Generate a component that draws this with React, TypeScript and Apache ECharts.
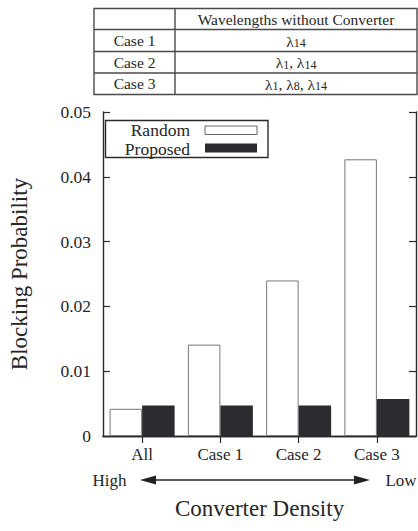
import React, { useEffect, useRef } from "react";
import * as echarts from "echarts";

// Blocking probability per converter placement case
const categories = ["All", "Case 1", "Case 2", "Case 3"];
const randomValues = [0.0042, 0.0141, 0.024, 0.0427];
const proposedValues = [0.0047, 0.0047, 0.0047, 0.0057];
const yMin = 0;
const yMax = 0.05;
const yInterval = 0.01;

// Summary table above the chart
const tableHeader = "Wavelengths without Converter";
const tableCases = ["Case 1", "Case 2", "Case 3"];
const tableWavelengths = [["14"], ["1", "14"], ["1", "8", "14"]];

const seriesNames = ["Random", "Proposed"];
const densityEnds = ["High", "Low"];

const FONT = "Liberation Serif";
const TEXT = "#262626";
const FRAME = "#2b2b2b";
const DARK = "#2b2c30";

export default function App() {
  const ref = useRef<HTMLDivElement>(null);

  useEffect(() => {
    if (!ref.current) return;
    const chart = echarts.init(ref.current, null, { renderer: "svg" });

    // table geometry
    const tX0 = 94, tX1 = 175, tX2 = 417;
    const tRows = [8.5, 29.5, 51.5, 73, 94.5];
    const tableLine = { stroke: "#4a4a4a", lineWidth: 1.4 };
    const tableGraphics: any[] = [
      {
        type: "rect",
        shape: { x: tX0, y: tRows[0], width: tX2 - tX0, height: tRows[4] - tRows[0] },
        style: { fill: "none", ...tableLine },
      },
      {
        type: "line",
        shape: { x1: tX1, y1: tRows[0], x2: tX1, y2: tRows[4] },
        style: tableLine,
      },
      ...[1, 2, 3].map((i) => ({
        type: "line",
        shape: { x1: tX0, y1: tRows[i], x2: tX2, y2: tRows[i] },
        style: tableLine,
      })),
      {
        type: "text",
        x: (tX1 + tX2) / 2,
        y: (tRows[0] + tRows[1]) / 2,
        style: {
          text: tableHeader,
          fontFamily: FONT,
          fontSize: 15.5,
          fill: TEXT,
          align: "center",
          verticalAlign: "middle",
        },
      },
      ...tableCases.map((c, i) => ({
        type: "text",
        x: (tX0 + tX1) / 2,
        y: (tRows[i + 1] + tRows[i + 2]) / 2,
        style: {
          text: c,
          fontFamily: FONT,
          fontSize: 15.5,
          fill: TEXT,
          align: "center",
          verticalAlign: "middle",
        },
      })),
      ...tableWavelengths.map((subs, i) => ({
        type: "text",
        x: (tX1 + tX2) / 2,
        y: (tRows[i + 1] + tRows[i + 2]) / 2,
        style: {
          text: subs.map((s) => `{l|λ}{s|${s}}`).join("{l|, }"),
          fontFamily: FONT,
          fill: TEXT,
          align: "center",
          verticalAlign: "middle",
          rich: {
            l: { fontFamily: FONT, fontSize: 15.5, fill: TEXT, lineHeight: 17, verticalAlign: "bottom" },
            s: { fontFamily: FONT, fontSize: 12, fill: TEXT, lineHeight: 17, verticalAlign: "bottom" },
          },
        },
      })),
    ];

    // legend drawn as a framed box
    const legendGraphics: any[] = [
      {
        type: "rect",
        shape: { x: 105.5, y: 120.5, width: 162.5, height: 37 },
        style: { fill: "#fff", stroke: FRAME, lineWidth: 1.4 },
        z: 10,
      },
      ...seriesNames.map((n, i) => ({
        type: "text",
        x: 190,
        y: 130 + i * 18.5,
        z: 11,
        style: {
          text: n,
          fontFamily: FONT,
          fontSize: 17.5,
          lineHeight: 17,
          fill: TEXT,
          align: "right",
          verticalAlign: "middle",
        },
      })),
      {
        type: "rect",
        z: 11,
        shape: { x: 205, y: 126, width: 52, height: 8.5 },
        style: { fill: "#fff", stroke: "#666", lineWidth: 1 },
      },
      {
        type: "rect",
        z: 11,
        shape: { x: 205, y: 143.5, width: 52, height: 9 },
        style: { fill: DARK },
      },
    ];

    // density arrow under the category labels
    const ay = 480;
    const arrowGraphics: any[] = [
      {
        type: "line",
        shape: { x1: 150, y1: ay, x2: 360, y2: ay },
        style: { stroke: "#222", lineWidth: 1.3 },
      },
      {
        type: "polygon",
        shape: { points: [[140, ay], [156, ay - 4.5], [156, ay + 4.5]] },
        style: { fill: "#222" },
      },
      {
        type: "polygon",
        shape: { points: [[370, ay], [354, ay - 4.5], [354, ay + 4.5]] },
        style: { fill: "#222" },
      },
      {
        type: "text",
        x: 109.5,
        y: ay,
        style: { text: densityEnds[0], fontFamily: FONT, fontSize: 17, fill: TEXT, align: "center", verticalAlign: "middle" },
      },
      {
        type: "text",
        x: 401,
        y: ay,
        style: { text: densityEnds[1], fontFamily: FONT, fontSize: 17, fill: TEXT, align: "center", verticalAlign: "middle" },
      },
    ];

    const frameLine = { show: true, lineStyle: { color: FRAME, width: 1.4 } };
    const inTick = { show: true, inside: true, length: 7, lineStyle: { color: FRAME, width: 1.2 } };

    chart.setOption({
      animation: false,
      backgroundColor: "#fff",
      textStyle: { fontFamily: FONT },
      grid: { left: 95, right: 2, top: 112, bottom: 95, containLabel: false },
      xAxis: [
        {
          type: "category",
          data: categories,
          position: "bottom",
          axisLine: frameLine,
          axisTick: { show: false },
          axisLabel: { color: TEXT, fontSize: 17, fontFamily: FONT, margin: 10 },
          name: "Converter Density",
          nameLocation: "middle",
          nameGap: 61,
          nameTextStyle: { color: TEXT, fontSize: 23, fontFamily: FONT },
        },
        {
          type: "category",
          data: categories,
          position: "top",
          axisLine: frameLine,
          axisTick: { ...inTick, alignWithLabel: true },
          axisLabel: { show: false },
        },
      ],
      yAxis: [
        {
          type: "value",
          min: yMin,
          max: yMax,
          interval: yInterval,
          position: "left",
          axisLine: frameLine,
          axisTick: inTick,
          splitLine: { show: false },
          axisLabel: {
            color: TEXT,
            fontSize: 17.5,
            fontFamily: FONT,
            margin: 12,
            formatter: (v: number) => (v === 0 ? "0" : v.toFixed(2)),
          },
          name: "Blocking Probability",
          nameLocation: "middle",
          nameGap: 72,
          nameTextStyle: { color: TEXT, fontSize: 23, fontFamily: FONT },
        },
        {
          type: "value",
          min: yMin,
          max: yMax,
          interval: yInterval,
          position: "right",
          axisLine: frameLine,
          axisTick: inTick,
          splitLine: { show: false },
          axisLabel: { show: false },
        },
      ],
      series: [
        {
          name: seriesNames[0],
          type: "bar",
          data: randomValues,
          barWidth: 32.5,
          barGap: "0%",
          itemStyle: { color: "#fff", borderColor: "#777", borderWidth: 1 },
        },
        {
          name: seriesNames[1],
          type: "bar",
          data: proposedValues,
          barWidth: 32.5,
          barGap: "0%",
          itemStyle: { color: DARK },
        },
      ],
      graphic: [...tableGraphics, ...legendGraphics, ...arrowGraphics],
    });

    return () => chart.dispose();
  }, []);

  return (
    <div
      ref={ref}
      style={{ position: "fixed", left: 0, top: 0, width: 418, height: 531, background: "#fff" }}
    />
  );
}
